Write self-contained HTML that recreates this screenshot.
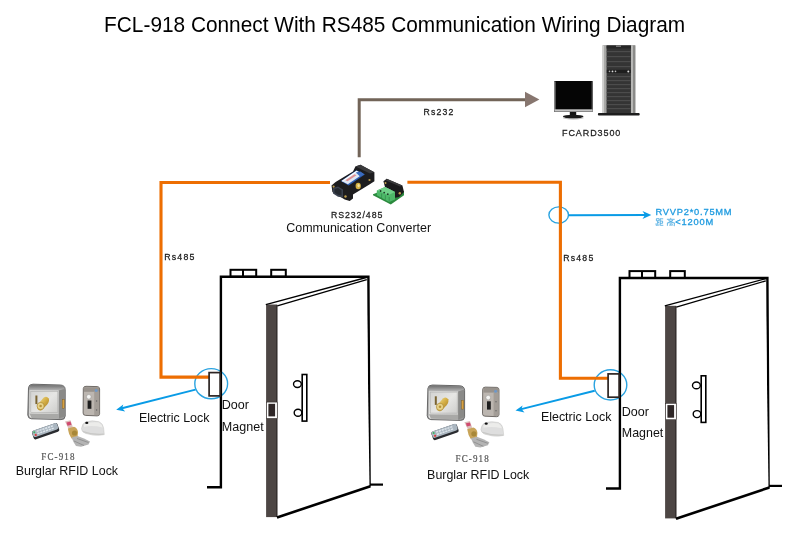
<!DOCTYPE html>
<html><head><meta charset="utf-8">
<style>
html,body{margin:0;padding:0;background:#fff;width:800px;height:546px;overflow:hidden}
svg{display:block}
text{font-family:"Liberation Sans",sans-serif}
svg{will-change:transform}
.serif{font-family:"Liberation Serif",serif}
</style></head><body>
<svg width="800" height="546" viewBox="0 0 800 546">
<defs>
<linearGradient id="silv" x1="0" y1="0" x2="0" y2="1">
<stop offset="0" stop-color="#9a9a9a"/><stop offset="0.25" stop-color="#d8d8d6"/><stop offset="0.6" stop-color="#c2c2c0"/><stop offset="1" stop-color="#8c8c8a"/>
</linearGradient>
<linearGradient id="silvh" x1="0" y1="0" x2="1" y2="0">
<stop offset="0" stop-color="#8f8f8f"/><stop offset="0.5" stop-color="#d0d0d0"/><stop offset="1" stop-color="#9a9a9a"/>
</linearGradient>
<radialGradient id="gold" cx="0.4" cy="0.4" r="0.6">
<stop offset="0" stop-color="#f4e4a0"/><stop offset="0.6" stop-color="#c9a445"/><stop offset="1" stop-color="#8a6a20"/>
</radialGradient>

<!-- DOOR -->
<g id="door">
  <!-- frame -->
  <path d="M207,487.2 H220.9 V276.7 H368.4 L369.6,486.4" fill="none" stroke="#000" stroke-width="2.4" stroke-linejoin="miter"/>
  <line x1="369" y1="484.6" x2="383" y2="484.6" stroke="#000" stroke-width="2.2"/>
  <!-- top boxes -->
  <rect x="230.5" y="269.8" width="25.7" height="6.9" fill="none" stroke="#000" stroke-width="2"/>
  <line x1="243" y1="269.8" x2="243" y2="276.7" stroke="#000" stroke-width="2"/>
  <rect x="271.2" y="269.8" width="14.6" height="6.9" fill="none" stroke="#000" stroke-width="2"/>
  <!-- leaf -->
  <polygon points="277.5,305.5 366.5,279 369.5,486 277.5,517.3" fill="#fff"/>
  <rect x="266.1" y="304.5" width="11.2" height="212.6" fill="#4d4644"/>
  <line x1="276.9" y1="305" x2="276.9" y2="517" stroke="#1e1a19" stroke-width="0.8"/>
  <line x1="265.8" y1="304.6" x2="368.2" y2="277" stroke="#000" stroke-width="1.3"/>
  <line x1="277.3" y1="305.8" x2="366.8" y2="279.6" stroke="#000" stroke-width="1.3"/>
  <line x1="277" y1="517.5" x2="370.4" y2="486.2" stroke="#000" stroke-width="2.6"/>
  <!-- handle -->
  <ellipse cx="297.4" cy="384.1" rx="3.9" ry="3.4" fill="#fff" stroke="#000" stroke-width="1.4"/>
  <ellipse cx="298" cy="412.8" rx="3.8" ry="3.5" fill="#fff" stroke="#000" stroke-width="1.4"/>
  <rect x="302.2" y="374.5" width="4.6" height="46.6" fill="#fff" stroke="#000" stroke-width="1.6"/>
  <!-- magnet on leaf -->
  <rect x="266.6" y="402.1" width="10.6" height="16.3" fill="#fff" stroke="#2a2424" stroke-width="0.5"/>
  <rect x="268.4" y="403.8" width="6.7" height="12.6" fill="#2e2626"/>
  <!-- door magnet on frame -->
  <rect x="209.1" y="372.6" width="11" height="23.3" fill="#fff" stroke="#2c2422" stroke-width="1.7"/>
</g>

<!-- LOCK PHOTO -->
<g id="lock">
  <!-- lock body -->
  <defs>
  <linearGradient id="ltop" x1="0" y1="0" x2="0" y2="1"><stop offset="0" stop-color="#6e6e6e"/><stop offset="1" stop-color="#b8b8b8"/></linearGradient>
  <linearGradient id="lfront" x1="0" y1="0" x2="1" y2="1"><stop offset="0" stop-color="#d2d2d0"/><stop offset="0.5" stop-color="#e6e6e4"/><stop offset="1" stop-color="#c6c6c4"/></linearGradient>
  <linearGradient id="gcyl" x1="0" y1="0" x2="1" y2="1"><stop offset="0" stop-color="#f2e49c"/><stop offset="0.5" stop-color="#d4ae44"/><stop offset="1" stop-color="#9a7424"/></linearGradient>
  </defs>
  <path d="M28.5,387.5 Q29,384.2 33,384.2 L60.5,385 Q65,385.3 65.2,389.5 L65.2,416 Q65,419.8 61,419.6 L31.5,418.8 Q28,418.6 27.8,415 Z" fill="#9c9c9c" stroke="#5c5c5c" stroke-width="0.9"/>
  <path d="M28.8,387.6 Q29.3,384.8 33,384.8 L60.5,385.6 Q64,386 64.5,389 L58.8,390.6 L29.3,390 Z" fill="url(#ltop)"/>
  <path d="M29.3,390 L58.8,390.6 L58.8,418.6 L31.5,418.1 Q29.2,417.9 29.2,415.5 Z" fill="url(#lfront)"/>
  <rect x="30.8" y="391.3" width="27" height="21" fill="none" stroke="#b0b0ae" stroke-width="0.6"/>
  <path d="M29.5,413.5 L58.6,413.9 L58.6,418.4 L31.5,418 Z" fill="#a9a9a7"/>
  <path d="M58.8,390.6 L64.6,389 L64.6,416.5 L58.8,418.6 Z" fill="#8a8a88"/>
  <rect x="62.2" y="399.5" width="2.2" height="8.8" fill="#d8a040" stroke="#7a5a20" stroke-width="0.4"/>
  <rect x="35.4" y="395.5" width="2" height="8.6" fill="#7a6432"/>
  <path d="M37.6,404.8 L43.5,397.8 Q46.5,395.2 48.8,398.5 Q49.8,401.2 47.2,404.5 L42,410 Q38.8,411.5 37.4,408.8 Q36.8,406.6 37.6,404.8 Z" fill="url(#gcyl)"/>
  <circle cx="40.6" cy="406" r="3.6" fill="#e8d48a" stroke="#a07c28" stroke-width="0.6"/>
  <circle cx="40.6" cy="406" r="1.3" fill="#b8923a"/>
  <!-- strike plate -->
  <path d="M83.3,388.5 Q83.5,386.3 86,386.3 L97.5,386.6 Q99.6,386.8 99.6,389 L99.6,413.8 Q99.5,416 97.2,415.9 L85.5,415.4 Q83.1,415.3 83.1,413 Z" fill="#bcb6b0" stroke="#55504c" stroke-width="0.8"/>
  <rect x="84" y="387.2" width="15" height="4.6" fill="#98928c"/>
  <rect x="94.2" y="391.8" width="5" height="23.4" fill="#a39d97"/>
  <circle cx="96.2" cy="390.4" r="1.5" fill="#6f98c8"/>
  <circle cx="88.8" cy="396.8" r="2.3" fill="#f4f4f2" stroke="#8a8a8a" stroke-width="0.4"/>
  <rect x="87.6" y="400.5" width="3.8" height="8.3" fill="#1e1e1e"/>
  <circle cx="96.6" cy="401" r="0.7" fill="#666"/><circle cx="96.6" cy="410" r="0.7" fill="#666"/>
  <!-- remote -->
  <g transform="translate(45.5,431) rotate(-19)">
    <rect x="-13.5" y="-4.2" width="27" height="9" rx="2" fill="#2a2c30"/>
    <rect x="-13.2" y="-4.4" width="26.4" height="6.8" rx="2" fill="#aab6c0"/>
    <g fill="#dfe6ec">
      <rect x="-8.5" y="-3.2" width="2.2" height="1.4"/><rect x="-5.5" y="-3.2" width="2.2" height="1.4"/><rect x="-2.5" y="-3.2" width="2.2" height="1.4"/><rect x="0.5" y="-3.2" width="2.2" height="1.4"/><rect x="3.5" y="-3.2" width="2.2" height="1.4"/><rect x="6.5" y="-3.2" width="2.2" height="1.4"/>
      <rect x="-8.5" y="-0.8" width="2.2" height="1.4"/><rect x="-5.5" y="-0.8" width="2.2" height="1.4"/><rect x="-2.5" y="-0.8" width="2.2" height="1.4"/><rect x="0.5" y="-0.8" width="2.2" height="1.4"/><rect x="3.5" y="-0.8" width="2.2" height="1.4"/><rect x="6.5" y="-0.8" width="2.2" height="1.4"/>
    </g>
    <circle cx="-11" cy="-2.5" r="1" fill="#3ab860"/>
    <circle cx="-10.5" cy="0.6" r="1.1" fill="#e03838"/>
  </g>
  <!-- keys -->
  <path d="M65,421.5 L70.5,420.2 L73,427.5 L68.5,428.8 Z" fill="#dcc0bc"/>
  <path d="M66.5,422.5 L70.5,421.6 L71.5,424.8 L67.5,425.8 Z" fill="#d04a70"/>
  <path d="M67.8,428.5 L74,426.8 Q77.5,428 78,432 L77.5,437.5 L71.5,438.5 Q68.5,434 67.8,428.5 Z" fill="#c8a458"/>
  <circle cx="74.5" cy="433" r="2.6" fill="#a88838"/>
  <path d="M71.5,437.5 L77.5,436 L84,438.5 L90,441.5 L88.5,444.5 L81,446.8 L76,446 L73.5,442 Z" fill="#b4b4b4"/>
  <path d="M74,441 L84,445.5 M77,438.5 L88.5,442.5" stroke="#8a8a8a" stroke-width="0.8"/>
  <!-- tag -->
  <path d="M81.5,428.5 Q82,423.5 86,421.8 Q92,420 99,421.7 Q103,423.5 103.6,428 L104.3,434.6 Q100,435.8 93,435.1 L85.5,433.4 Q81.3,431.6 81.5,428.5 Z" fill="#dedede" stroke="#c4c4c2" stroke-width="0.5"/>
  <path d="M84,424.5 Q90,421.5 99,422.6 Q102,424.5 102.5,427.5 Q92,425 84,427 Z" fill="#ececea"/>
  <path d="M83,431.5 Q92,435 103.8,434.2" fill="none" stroke="#c8c8c6" stroke-width="1.2"/>
  <ellipse cx="86.8" cy="422.9" rx="1.6" ry="1.1" fill="#111"/>
</g>
</defs>

<rect width="800" height="546" fill="#fff"/>
<!-- blue ellipses (under lines) -->
<ellipse cx="558.7" cy="215" rx="9.8" ry="8.1" fill="none" stroke="#2aa3e0" stroke-width="1.4"/>
<ellipse cx="211.2" cy="383.7" rx="16.4" ry="15.1" fill="none" stroke="#2aa3e0" stroke-width="1.4"/>
<ellipse cx="610.5" cy="384.9" rx="16.3" ry="15.1" fill="none" stroke="#2aa3e0" stroke-width="1.4"/>

<!-- Title -->

<!-- Brown RS232 line -->
<path d="M359.2,157.2 V99.7 H526" fill="none" stroke="#726458" stroke-width="3" stroke-linejoin="miter"/>
<polygon points="525,91.8 539.4,99.6 525,107.3" fill="#87766f"/>

<!-- Computer -->
<g id="pc">
  <!-- monitor -->
  <rect x="554.3" y="81" width="38.3" height="31" fill="#050505"/>
  <rect x="554.3" y="81.5" width="1.2" height="28.5" fill="#9a9a9a"/>
  <rect x="591.6" y="81.5" width="1" height="28.5" fill="#5a5a5a"/>
  <rect x="554.5" y="109.3" width="38" height="2.4" fill="#c4c4c4"/>
  <rect x="569.8" y="112" width="6.4" height="3.8" fill="#151515"/>
  <ellipse cx="573.2" cy="116.6" rx="10.3" ry="1.9" fill="#1a1a1a"/>
  <path d="M563,117.4 Q573,120.2 583.6,117.4 L583.6,118.2 Q573,120.6 563,118.2 Z" fill="#b0b0b0"/>
  <!-- tower -->
  <rect x="602.6" y="45.2" width="32.7" height="68.2" fill="#9a9a98"/>
  <rect x="602.6" y="45.5" width="1.8" height="67.5" fill="#cfcfcd"/>
  <rect x="604.4" y="45.5" width="2.2" height="67.5" fill="#a6a6a4"/>
  <rect x="630.9" y="45.5" width="2.2" height="67.5" fill="#b8b8b6"/>
  <rect x="633.1" y="45.5" width="2.2" height="67.5" fill="#8a8a88"/>
  <rect x="606.6" y="45.5" width="24.3" height="67.5" fill="#343434"/>
  <rect x="606.6" y="45.5" width="24.3" height="3" fill="#262626"/>
  <g fill="#4c4c4c">
    <rect x="606.8" y="51" width="23.9" height="1.2"/><rect x="606.8" y="56" width="23.9" height="1.2"/><rect x="606.8" y="61" width="23.9" height="1.2"/><rect x="606.8" y="66" width="23.9" height="1.2"/>
    <rect x="606.8" y="76" width="23.9" height="1.2"/><rect x="606.8" y="80" width="23.9" height="1.2"/><rect x="606.8" y="84" width="23.9" height="1.2"/><rect x="606.8" y="88" width="23.9" height="1.2"/><rect x="606.8" y="92" width="23.9" height="1.2"/><rect x="606.8" y="96" width="23.9" height="1.2"/><rect x="606.8" y="100" width="23.9" height="1.2"/><rect x="606.8" y="104" width="23.9" height="1.2"/><rect x="606.8" y="108" width="23.9" height="1.2"/>
  </g>
  <rect x="606.8" y="69.8" width="23.9" height="3.2" fill="#1e1e1e"/>
  <circle cx="609.5" cy="71.4" r="0.8" fill="#aaa"/><circle cx="612.5" cy="71.4" r="0.9" fill="#ddd"/><circle cx="615.5" cy="71.4" r="0.8" fill="#bbb"/><circle cx="628.3" cy="71.4" r="1" fill="#ddd"/>
  <rect x="616" y="45.5" width="5" height="1.3" fill="#888"/>
  <rect x="597.9" y="113" width="41.8" height="2.6" rx="1" fill="#1d1d1d"/>
</g>

<!-- Orange RS485 lines -->
<path d="M330,182.5 H161 V377.1 H209" fill="none" stroke="#ed6e02" stroke-width="3.1" stroke-linejoin="miter"/>
<path d="M407.4,182.3 H560.4 V378.3 H608" fill="none" stroke="#ed6e02" stroke-width="3.1" stroke-linejoin="miter"/>

<!-- Converter -->
<g id="conv">
  <!-- body silhouette -->
  <polygon points="331.5,185.4 335.6,182.1 353,171.4 355.4,166.5 360.4,164.8 374.4,172.2 374.4,181.3 369.4,184.6 353,194.5 353,198.6 349.7,201 344.7,199.4 332.4,192" fill="#1d1d1f"/>
  <polygon points="355.4,166.5 360.4,164.8 374.4,172.2 370,173.5" fill="#3a3a3c"/>
  <!-- label on top -->
  <polygon points="340.8,181 356.4,170.2 364.7,174.4 348.7,185.6" fill="#2f5fb4"/>
  <polygon points="341.6,180.9 356.6,170.7 363,174 347.8,184.2" fill="#dfe8f4"/>
  <polygon points="341.6,180.9 356.6,170.7 357.8,171.3 342.8,181.5" fill="#ffffff"/>
  <polygon points="345.5,180.2 354.5,174.2 356.5,175.2 347.5,181.2" fill="#e07a7a" opacity="0.8"/>
  <polygon points="355.8,172.5 360.5,171.6 364.7,174.4 359.8,176.2" fill="#3a6cc0"/>
  <ellipse cx="358.2" cy="186" rx="2.6" ry="3.2" fill="#d4b040"/>
  <ellipse cx="358.6" cy="185.6" rx="1.2" ry="1.6" fill="#efe0a0"/>
  <!-- front DB9 -->
  <polygon points="332.8,188 338,186.4 343,189.5 343,197.6 338,196.8 333,193.5" fill="#3b4250"/>
  <polygon points="334.5,189 338,188 341.5,190.3 341.5,195.5 338,194.8 334.5,192.6" fill="#262a30"/>
  <circle cx="345.5" cy="196.5" r="1.2" fill="#c0a050"/>
  <circle cx="333.6" cy="186.6" r="1.1" fill="#c0a050"/>
  <circle cx="369.5" cy="180" r="1.1" fill="#c0a050"/>
  <!-- green board -->
  <polygon points="373,194.2 385,189.5 404,191.2 404,195.3 390.8,204.4 373,195.3" fill="#2b8a3e"/>
  <polygon points="383.4,181.3 386.7,178.8 402.4,185.4 404,192 399,197 395,197.8 395,192 385,187.1" fill="#1b1b1d"/>
  <polygon points="386.7,178.8 402.4,185.4 400,186.5 386,180.5" fill="#3a3a3c"/>
  <polygon points="376.8,190.4 385,187.1 395,192 395,199.4 389.2,201.9 376.8,195.3" fill="#4db868"/>
  <polygon points="376.8,190.4 385,187.1 395,192 388.5,195" fill="#6fd088"/>
  <g fill="#1e3a26">
    <circle cx="380.6" cy="191" r="0.9"/><circle cx="384.2" cy="192.6" r="0.9"/><circle cx="387.8" cy="194.2" r="0.9"/>
  </g>
  <g stroke="#2e7d44" stroke-width="0.6">
    <line x1="381.6" y1="193.5" x2="381.6" y2="198"/>
    <line x1="385.4" y1="195.3" x2="385.4" y2="199.8"/>
    <line x1="389.2" y1="197" x2="389.2" y2="201.5"/>
  </g>
  <circle cx="399.8" cy="193.2" r="1.2" fill="#c0a050"/>
  <circle cx="385.5" cy="183" r="1" fill="#c0a050"/>
</g>


<!-- Blue cable spec -->
<line x1="568.6" y1="215.2" x2="646" y2="215.1" stroke="#099be6" stroke-width="2"/>
<polygon points="651.3,215.1 642.5,211.1 645,215.1 642.5,219.1" fill="#099be6"/>
<g stroke="#3aa2de" stroke-width="0.75" fill="none">
  <path d="M656.4,218.7 h2.7 v2.1 h-2.7 z M657.7,220.8 v3.9 M657.7,222.6 h1.5 M656.1,223.2 v2 M655.9,225.3 l3.6,-0.3"/>
  <path d="M659.9,218.8 h3.3 M660.2,218.8 v6.5 h3.1 M660.2,221.1 h2.4 v2.2 h-2.4"/>
  <path d="M670.7,217.9 v1 M666.9,219.3 h7.8 M668.3,220.2 l4.8,2.2 M673.1,220.2 l-4.8,2.2 M667.4,225.8 v-3 h7 v3 l-0.7,-0.3 M669.6,225 l1.6,-1.5 l1.3,1.3 M669.4,225.1 h3.3"/>
</g>

<!-- Doors -->
<use href="#door"/>
<use href="#door" transform="translate(399.0,1.3)"/>

<!-- Blue circles + arrows (left) -->
<line x1="195.5" y1="389.6" x2="121" y2="408.5" stroke="#099be6" stroke-width="2"/>
<polygon points="116.2,409.8 123.3,404.6 122.2,408.3 125.2,411.6" fill="#099be6"/>
<!-- right -->
<line x1="594.7" y1="390.7" x2="520.3" y2="409.4" stroke="#099be6" stroke-width="2"/>
<polygon points="515.5,410.6 522.6,405.4 521.5,409.1 524.5,412.4" fill="#099be6"/>

<!-- Labels -->

<!-- Locks -->
<use href="#lock"/>
<use href="#lock" transform="translate(399.4,0.8)"/>
<!-- TEXTS -->
<text transform="translate(104.1,31.55) scale(1,1.055)" font-size="20.83" fill="#000">FCL-918 Connect With RS485 Communication Wiring Diagram</text>
<text transform="translate(423.5,114.55) scale(1,1.1)" font-size="8.7" letter-spacing="1.17" fill="#1c1c1c" stroke="#1c1c1c" stroke-width="0.25">Rs232</text>
<text transform="translate(562.06,135.75) scale(1,1.1)" font-size="9.0" letter-spacing="0.91" fill="#222" stroke="#222" stroke-width="0.25">FCARD3500</text>
<text transform="translate(330.88,217.6) scale(1,1.1)" font-size="8.8" letter-spacing="0.93" fill="#222" stroke="#222" stroke-width="0.25">RS232/485</text>
<text transform="translate(286.2,231.50) scale(1,1.06)" font-size="12.49" fill="#111">Communication Converter</text>
<text transform="translate(164.28,259.75) scale(1,1.1)" font-size="8.8" letter-spacing="1.16" fill="#1c1c1c" stroke="#1c1c1c" stroke-width="0.25">Rs485</text>
<text transform="translate(563.3,260.7) scale(1,1.1)" font-size="8.7" letter-spacing="1.21" fill="#1c1c1c" stroke="#1c1c1c" stroke-width="0.25">Rs485</text>
<text transform="translate(655.5,214.6) scale(1,1.0)" font-size="9.3" letter-spacing="0.78" fill="#1f9be0" stroke="#1f9be0" stroke-width="0.3">RVVP2*0.75MM</text>
<text transform="translate(675.3,225.4) scale(1,1.0)" font-size="9.3" letter-spacing="0.8" fill="#1f9be0" stroke="#1f9be0" stroke-width="0.3">&lt;1200M</text>
<text transform="translate(138.9,421.65) scale(1,1.06)" font-size="12.46" fill="#111">Electric Lock</text>
<text transform="translate(540.9,420.65) scale(1,1.06)" font-size="12.46" fill="#111">Electric Lock</text>
<text transform="translate(221.8,408.70) scale(1,1.06)" font-size="12.57" fill="#111">Door</text>
<text transform="translate(221.8,430.50) scale(1,1.06)" font-size="12.55" fill="#111">Magnet</text>
<text transform="translate(621.8,415.70) scale(1,1.06)" font-size="12.57" fill="#111">Door</text>
<text transform="translate(621.8,437.20) scale(1,1.06)" font-size="12.45" fill="#111">Magnet</text>
<text transform="translate(41.24,460.2) scale(1,1.08)" font-size="9" fill="#555" stroke="#555" stroke-width="0.2" letter-spacing="1.16" class="serif">FC-918</text>
<text transform="translate(455.54,461.9) scale(1,1.08)" font-size="9" fill="#555" stroke="#555" stroke-width="0.2" letter-spacing="1.12" class="serif">FC-918</text>
<text transform="translate(15.7,475.40) scale(1,1.06)" font-size="12.47" fill="#111">Burglar RFID Lock</text>
<text transform="translate(427.1,478.65) scale(1,1.06)" font-size="12.44" fill="#111">Burglar RFID Lock</text>
</svg>
</body></html>
